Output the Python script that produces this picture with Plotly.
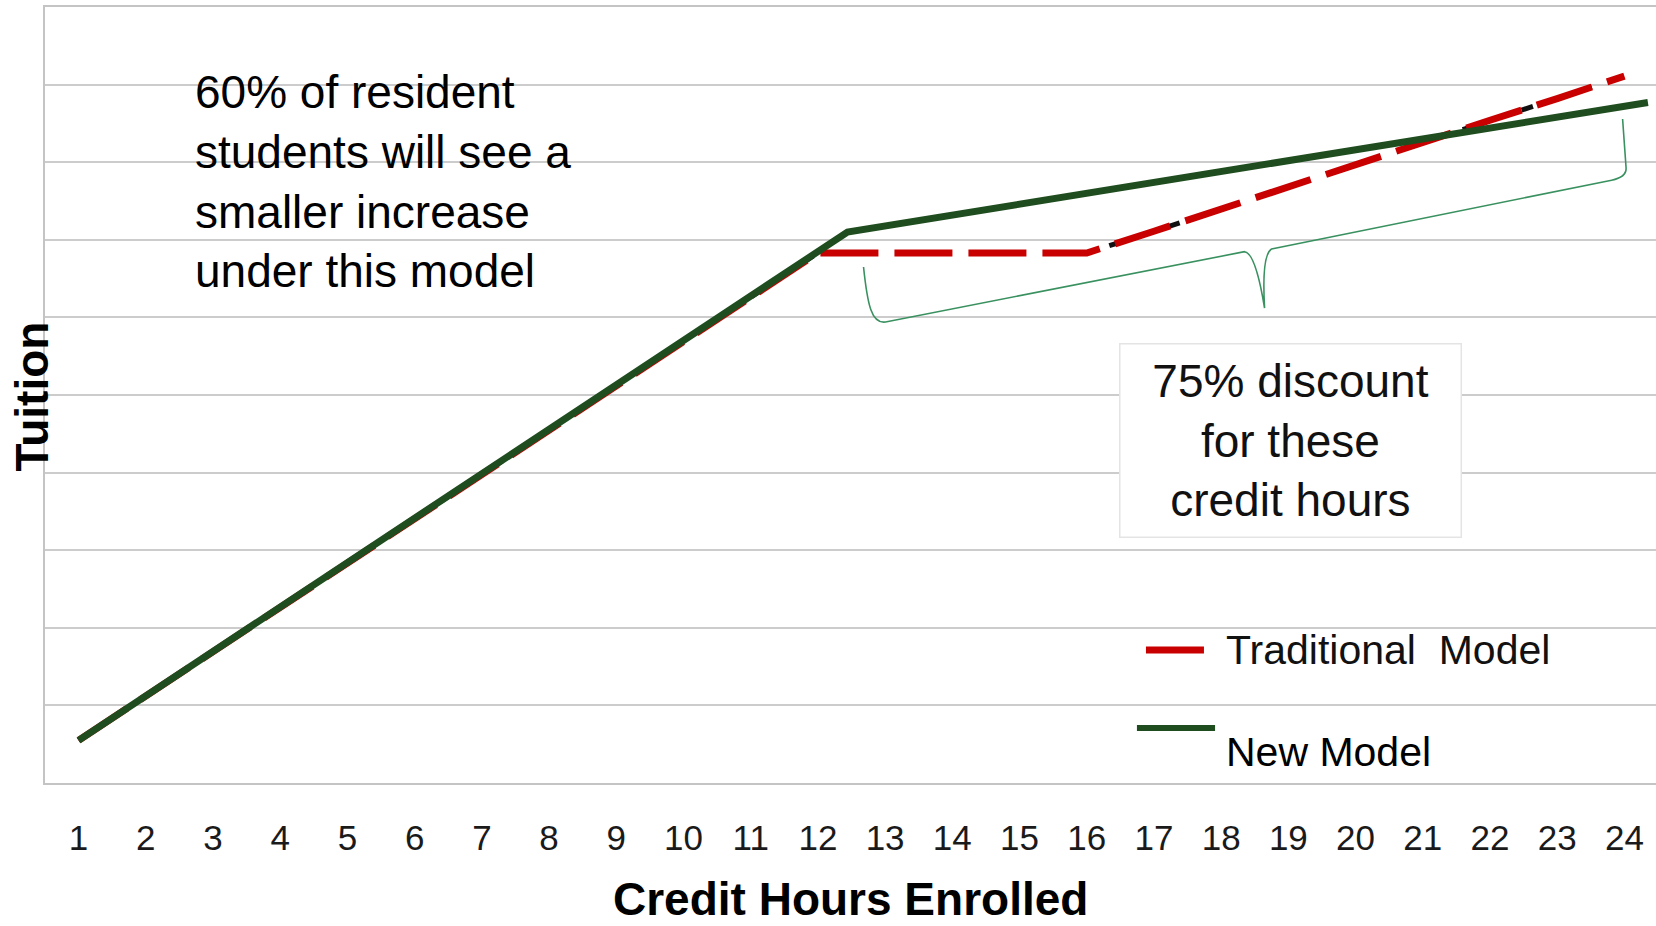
import plotly.graph_objects as go

# ---- data ----
hours = list(range(1, 25))
hour_labels = [str(h) for h in hours]
traditional = [0.55, 1.12, 1.69, 2.26, 2.83, 3.40, 3.98, 4.55, 5.12, 5.69, 6.26, 6.83,
               6.83, 6.83, 6.83, 6.83, 7.11, 7.40, 7.68, 7.97, 8.25, 8.54, 8.82, 9.11]
new_model_x = [1, 12.44, 24.35]
new_model_y = [0.55, 7.10, 8.77]

FONT = "Liberation Sans, Arial, sans-serif"
RED = "#c80000"
GREEN = "#1f4d1f"
BRACE = "#3a9160"
GRID = "#cccccc"

fig = go.Figure()

# black under-dashes visible in the gaps of the traditional line
fig.add_trace(go.Scatter(x=hours, y=traditional, mode="lines",
                         line=dict(color="#111111", width=5, dash="12px,50px"),
                         showlegend=False, hoverinfo="skip"))
fig.add_trace(go.Scatter(x=hours, y=traditional, mode="lines", name="Traditional Model",
                         line=dict(color=RED, width=7, dash="58px,16px"),
                         showlegend=False))
fig.add_trace(go.Scatter(x=new_model_x, y=new_model_y, mode="lines", name="New Model",
                         line=dict(color=GREEN, width=7),
                         showlegend=False))

shapes = []
# white backdrop behind the left note (hides gridlines)
shapes.append(dict(type="rect", xref="paper", yref="paper", layer="between",
                   x0=0.0813, x1=0.3787, y0=0.622, y1=0.957,
                   fillcolor="white", line=dict(width=0)))
# curly brace under the discounted hours
brace = ("M 12.679,6.649 C 12.738,6.160 12.798,5.915 13.006,5.941 "
         "L 18.348,6.847 Q 18.512,6.830 18.646,6.121 "
         "Q 18.601,6.804 18.750,6.881 "
         "L 23.810,7.768 Q 24.033,7.809 24.025,7.925 L 23.973,8.557")
shapes.append(dict(type="path", xref="x", yref="y", path=brace,
                   line=dict(color=BRACE, width=1.6), layer="above"))
# custom legend samples
shapes.append(dict(type="line", xref="paper", yref="paper",
                   x0=0.6834, x1=0.7194, y0=0.1714, y1=0.1714,
                   line=dict(color=RED, width=7)))
shapes.append(dict(type="line", xref="paper", yref="paper",
                   x0=0.6778, x1=0.7263, y0=0.0709, y1=0.0709,
                   line=dict(color=GREEN, width=6)))

annotations = [
    dict(text="60% of resident<br>students will see a<br>smaller increase<br>under this model",
         xref="paper", yref="paper", x=0.0917, y=0.7754, xanchor="left", yanchor="middle",
         align="left", showarrow=False, font=dict(family=FONT, size=46, color="black")),
    dict(text="75% discount<br>for these<br>credit hours",
         xref="paper", yref="paper", x=0.7734, y=0.4414, xanchor="center", yanchor="middle",
         align="center", showarrow=False, width=326, height=178, borderpad=7,
         bgcolor="white", bordercolor="#e4e4e4", borderwidth=1.5,
         font=dict(family=FONT, size=46, color="#111111")),
    dict(text="Traditional\u00a0 Model", xref="paper", yref="paper", x=0.7318, y=0.1714,
         xanchor="left", yanchor="middle", showarrow=False,
         font=dict(family=FONT, size=41, color="#111111")),
    dict(text="New Model", xref="paper", yref="paper", x=0.7318, y=0.0399,
         xanchor="left", yanchor="middle", showarrow=False,
         font=dict(family=FONT, size=41, color="black")),
    dict(text="<b>Tuition</b>", xref="paper", yref="paper", x=-0.0078, y=0.4987,
         xanchor="center", yanchor="middle", textangle=-90, showarrow=False,
         font=dict(family=FONT, size=46, color="black")),
    dict(text="<b>Credit Hours Enrolled</b>", xref="paper", yref="paper", x=0.5003, y=-0.1840,
         xanchor="center", yanchor="bottom", showarrow=False, borderpad=0,
         font=dict(family=FONT, size=46, color="black")),
]

fig.update_layout(
    width=1656, height=926,
    margin=dict(l=45, r=0, t=7, b=143, autoexpand=False),
    paper_bgcolor="white", plot_bgcolor="white",
    showlegend=False,
    shapes=shapes, annotations=annotations,
    xaxis=dict(range=[0.5, 24.47], tickmode="array", tickvals=hours, ticktext=hour_labels,
               showgrid=False, zeroline=False, ticks="", ticklabelstandoff=23,
               showline=True, linecolor="#c4c4c4", linewidth=2, mirror=True,
               tickfont=dict(family=FONT, size=35, color="#1a1a1a"), automargin=False),
    yaxis=dict(range=[0, 10], dtick=1, showticklabels=False, ticks="",
               showgrid=True, gridcolor=GRID, gridwidth=2, zeroline=False,
               showline=True, linecolor="#c4c4c4", linewidth=2, mirror=True,
               automargin=False),
)

fig.write_html("out.html")
